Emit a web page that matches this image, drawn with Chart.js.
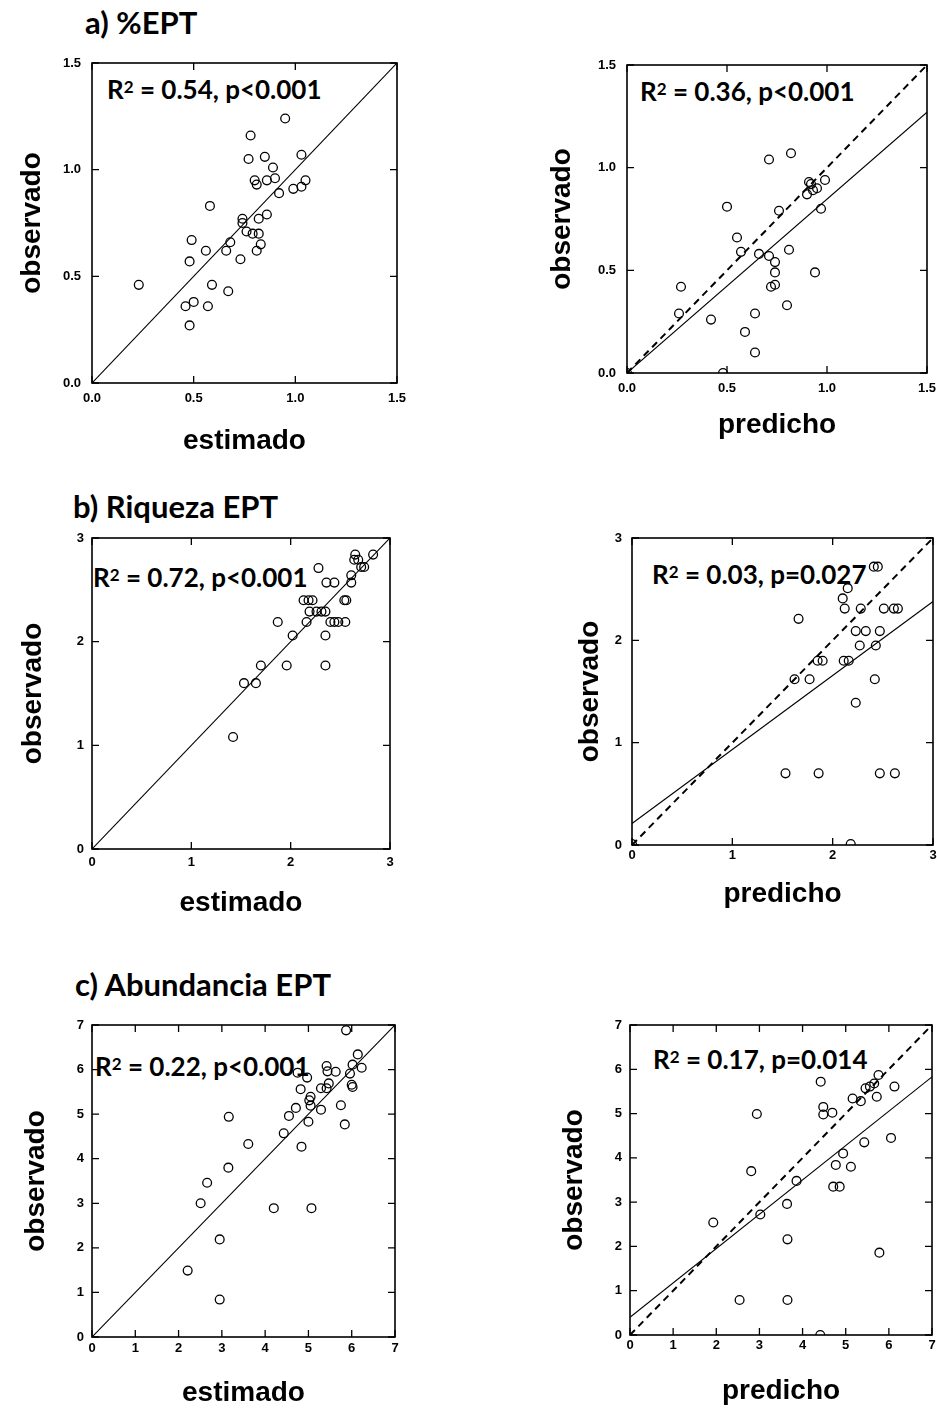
<!DOCTYPE html>
<html><head><meta charset="utf-8">
<script src="https://cdn.jsdelivr.net/npm/chart.js@4.4.0/dist/chart.umd.min.js"></script>
<style>
html,body{margin:0;padding:0;background:#fff;width:937px;height:1410px;overflow:hidden;position:relative}
canvas{position:absolute}
.ttl{position:absolute;font-family:Lato,'Open Sans',sans-serif;font-weight:700;font-size:31px;line-height:1;color:#000;white-space:nowrap}
.r2{position:absolute;font-family:Lato,'Open Sans',sans-serif;font-weight:700;font-size:26px;line-height:1;color:#000;white-space:nowrap}
.r2 .s{font-size:17px;vertical-align:top;position:relative;top:2px}
</style></head><body>
<div class="ttl" style="left:85px;top:7px">a) %EPT</div>
<div class="ttl" style="left:73px;top:491px">b) Riqueza EPT</div>
<div class="ttl" style="left:75px;top:969px">c) Abundancia EPT</div>
<div class="r2" style="left:107px;top:76px">R<span class="s">2</span> = 0.54, p&lt;0.001</div>
<div class="r2" style="left:640px;top:78px">R<span class="s">2</span> = 0.36, p&lt;0.001</div>
<div class="r2" style="left:93px;top:564px">R<span class="s">2</span> = 0.72, p&lt;0.001</div>
<div class="r2" style="left:652px;top:561px">R<span class="s">2</span> = 0.03, p=0.027</div>
<div class="r2" style="left:95px;top:1053px">R<span class="s">2</span> = 0.22, p&lt;0.001</div>
<div class="r2" style="left:653px;top:1046px">R<span class="s">2</span> = 0.17, p=0.014</div>
<canvas id="aL"></canvas><canvas id="aR"></canvas>
<canvas id="bL"></canvas><canvas id="bR"></canvas>
<canvas id="cL"></canvas><canvas id="cR"></canvas>
<script>
// ---- data ----
const ticksPct = ['0.0','0.5','1.0','1.5'];
const ticksRiq = ['0','1','2','3'];
const ticksAbu = ['0','1','2','3','4','5','6','7'];

const pctEstimado = [0.23,0.49,0.48,0.46,0.50,0.48,0.57,0.59,0.56,0.58,0.67,0.66,0.68,0.73,0.74,0.74,0.76,0.79,0.82,0.81,0.83,0.82,0.86,0.77,0.78,0.85,0.80,0.81,0.86,0.89,0.90,0.92,0.95,0.99,1.03,1.03,1.05];
const pctObsEst   = [0.46,0.67,0.57,0.36,0.38,0.27,0.36,0.46,0.62,0.83,0.43,0.62,0.66,0.58,0.77,0.75,0.71,0.70,0.70,0.62,0.65,0.77,0.79,1.05,1.16,1.06,0.95,0.93,0.95,1.01,0.96,0.89,1.24,0.91,1.07,0.92,0.95];

const pctPredicho = [0.00,0.27,0.26,0.42,0.48,0.50,0.55,0.57,0.59,0.64,0.64,0.66,0.71,0.74,0.74,0.72,0.74,0.71,0.82,0.81,0.80,0.76,0.94,0.90,0.92,0.95,0.93,0.99,0.97,0.91];
const pctObsPred  = [0.00,0.42,0.29,0.26,0.00,0.81,0.66,0.59,0.20,0.10,0.29,0.58,0.57,0.54,0.49,0.42,0.43,1.04,1.07,0.60,0.33,0.79,0.49,0.87,0.92,0.90,0.89,0.94,0.80,0.93];

const riqEstimado = [1.42,1.53,1.65,1.70,1.96,2.35,1.87,2.02,2.16,2.35,2.13,2.18,2.22,2.19,2.26,2.31,2.35,2.28,2.36,2.44,2.40,2.44,2.48,2.54,2.56,2.55,2.61,2.61,2.64,2.65,2.68,2.71,2.74,2.83];
const riqObsEst   = [1.08,1.60,1.60,1.77,1.77,1.77,2.19,2.06,2.19,2.06,2.40,2.40,2.40,2.29,2.29,2.29,2.29,2.71,2.57,2.57,2.19,2.19,2.19,2.40,2.40,2.19,2.57,2.64,2.79,2.84,2.79,2.72,2.72,2.84];

const riqPredicho = [0.00,2.18,1.53,1.86,2.47,2.62,2.23,1.62,1.77,2.42,1.85,1.90,2.11,2.16,1.66,2.27,2.43,2.23,2.33,2.47,2.12,2.28,2.51,2.61,2.65,2.10,2.15,2.41,2.45];
const riqObsPred  = [0.01,0.01,0.70,0.70,0.70,0.70,1.39,1.62,1.62,1.62,1.80,1.80,1.80,1.80,2.21,1.95,1.95,2.09,2.09,2.09,2.31,2.31,2.31,2.31,2.31,2.41,2.51,2.72,2.72];

const abuEstimado = [2.21,2.51,2.66,2.95,2.95,3.15,3.16,3.61,4.20,5.07,4.43,4.55,4.71,4.84,5.00,4.75,4.82,4.97,5.02,5.05,5.05,5.29,5.29,5.42,5.42,5.44,5.47,5.63,5.75,5.84,5.87,5.96,6.00,6.02,6.02,6.14,6.23];
const abuObsEst   = [1.49,3.00,3.46,2.19,0.84,3.80,4.94,4.33,2.89,2.89,4.57,4.96,5.14,4.27,4.83,5.93,5.56,5.82,5.31,5.39,5.19,5.10,5.58,5.58,6.08,5.96,5.69,5.95,5.20,4.77,6.88,5.91,5.66,6.11,5.61,6.34,6.04];

const abuPredicho = [4.41,2.54,3.65,1.93,3.02,3.65,3.64,2.81,3.86,2.94,4.48,4.48,4.69,4.42,4.77,4.71,4.86,4.94,5.12,5.43,5.16,5.35,5.46,5.56,5.72,5.66,5.76,5.78,6.05,6.13];
const abuObsPred  = [0.00,0.79,0.79,2.54,2.72,2.16,2.96,3.70,3.48,4.99,5.15,4.98,5.02,5.72,3.84,3.35,3.35,4.10,3.80,4.35,5.34,5.28,5.57,5.61,5.38,5.68,5.87,1.86,4.45,5.61];

// line end points (x, y)
const identPct = [[0,0],[1.5,1.5]];
const identRiq = [[0,0],[3,3]];
const identAbu = [[0,0],[7,7]];
const regPct = [[0,0],[1.5,1.27]];
const regRiq = [[0,0.21],[3,2.38]];
const regAbu = [[0,0.40],[7,5.83]];

// ---- drawing ----
const toPts = (xs, ys) => xs.map((x, i) => ({x: x, y: ys[i]}));
const linePts = arr => arr.map(p => ({x: p[0], y: p[1]}));

const frameTicks = {
  id: 'frameTicks',
  afterDraw(chart) {
    const ctx = chart.ctx, a = chart.chartArea, sx = chart.scales.x, sy = chart.scales.y;
    ctx.save();
    ctx.strokeStyle = '#000';
    ctx.lineWidth = 1.6;
    ctx.strokeRect(a.left, a.top, a.right - a.left, a.bottom - a.top);
    ctx.lineWidth = 1.3;
    const L = 7;
    ctx.beginPath();
    sx.ticks.forEach(t => {
      const px = sx.getPixelForValue(t.value);
      ctx.moveTo(px, a.bottom); ctx.lineTo(px, a.bottom - L);
      ctx.moveTo(px, a.top); ctx.lineTo(px, a.top + L);
    });
    sy.ticks.forEach(t => {
      const py = sy.getPixelForValue(t.value);
      ctx.moveTo(a.left, py); ctx.lineTo(a.left + L, py);
      ctx.moveTo(a.right, py); ctx.lineTo(a.right - L, py);
    });
    ctx.stroke();
    ctx.restore();
  }
};

const panels = [
  {id:'aL', xs:pctEstimado, ys:pctObsEst, max:1.5, step:0.5, labels:ticksPct, xTitle:'estimado', ident:identPct, reg:null,
   box:[92,63,397,383], yTitleX:32, xTitleDy:58, tpY:11, tpX:8},
  {id:'aR', xs:pctPredicho, ys:pctObsPred, max:1.5, step:0.5, labels:ticksPct, xTitle:'predicho', ident:identPct, reg:regPct,
   box:[627,65,927,373], yTitleX:562, xTitleDy:52, tpY:11, tpX:8},
  {id:'bL', xs:riqEstimado, ys:riqObsEst, max:3, step:1, labels:ticksRiq, xTitle:'estimado', ident:identRiq, reg:null,
   box:[92,538,390,849], yTitleX:33, xTitleDy:54, tpY:8, tpX:6},
  {id:'bR', xs:riqPredicho, ys:riqObsPred, max:3, step:1, labels:ticksRiq, xTitle:'predicho', ident:identRiq, reg:regRiq,
   box:[632,538,933,845], yTitleX:590, xTitleDy:49, tpY:10, tpX:3},
  {id:'cL', xs:abuEstimado, ys:abuObsEst, max:7, step:1, labels:ticksAbu, xTitle:'estimado', ident:identAbu, reg:null,
   box:[92,1025,395,1337], yTitleX:36, xTitleDy:56, tpY:8, tpX:4},
  {id:'cR', xs:abuPredicho, ys:abuObsPred, max:7, step:1, labels:ticksAbu, xTitle:'predicho', ident:identAbu, reg:regAbu,
   box:[630,1025,932,1335], yTitleX:574, xTitleDy:56, tpY:8, tpX:3}
];

const YW = 92, XH = 75, PT = 30, PR = 30;
const tickFont = {family:'Liberation Sans', weight:'bold', size:13};
const titleFont = {family:'Liberation Sans', weight:'bold', size:28};

panels.forEach(p => {
  const [l, t, r, b] = p.box;
  const cv = document.getElementById(p.id);
  const cl = l - YW, ct = t - PT;
  cv.width = (r - l) + YW + PR;
  cv.height = (b - t) + PT + XH;
  cv.style.left = cl + 'px';
  cv.style.top = ct + 'px';
  const datasets = [];
  if (p.reg) {
    datasets.push({type:'line', data:linePts(p.ident), borderColor:'#000', borderWidth:2, borderDash:[7,5], pointRadius:0, fill:false});
    datasets.push({type:'line', data:linePts(p.reg), borderColor:'#000', borderWidth:1.1, pointRadius:0, fill:false});
  } else {
    datasets.push({type:'line', data:linePts(p.ident), borderColor:'#000', borderWidth:1.1, pointRadius:0, fill:false});
  }
  datasets.push({type:'scatter', data:toPts(p.xs, p.ys), pointStyle:'circle', pointRadius:4.4,
    borderColor:'#000', borderWidth:1.3, backgroundColor:'rgba(0,0,0,0)'});
  const lh = titleFont.size * 1.2 / 2;
  new Chart(cv, {
    type:'scatter',
    data:{datasets},
    options:{
      responsive:false, animation:false, devicePixelRatio:1,
      layout:{padding:{top:PT, right:PR, left:0, bottom:0}},
      plugins:{legend:{display:false}, tooltip:{enabled:false}},
      scales:{
        x:{type:'linear', position:'bottom', min:0, max:p.max,
           ticks:{stepSize:p.step, padding:p.tpX, font:tickFont, color:'#000', maxRotation:0,
                  callback:(v, i) => p.labels[i] !== undefined ? p.labels[i] : v},
           grid:{display:false, drawTicks:false}, border:{display:false},
           title:{display:true, text:p.xTitle, font:titleFont, color:'#000',
                  padding:{top:0, bottom:Math.max(0, XH - p.xTitleDy - lh)}},
           afterFit: s => { s.height = XH; }},
        y:{type:'linear', position:'left', min:0, max:p.max,
           ticks:{stepSize:p.step, padding:p.tpY, font:tickFont, color:'#000',
                  callback:(v, i) => p.labels[i] !== undefined ? p.labels[i] : v},
           grid:{display:false, drawTicks:false}, border:{display:false},
           title:{display:true, text:'observado', font:titleFont, color:'#000',
                  padding:{top:Math.max(0, p.yTitleX - cl - lh), bottom:0}},
           afterFit: s => { s.width = YW; }}
      }
    },
    plugins:[frameTicks]
  });
});
</script>
</body></html>
